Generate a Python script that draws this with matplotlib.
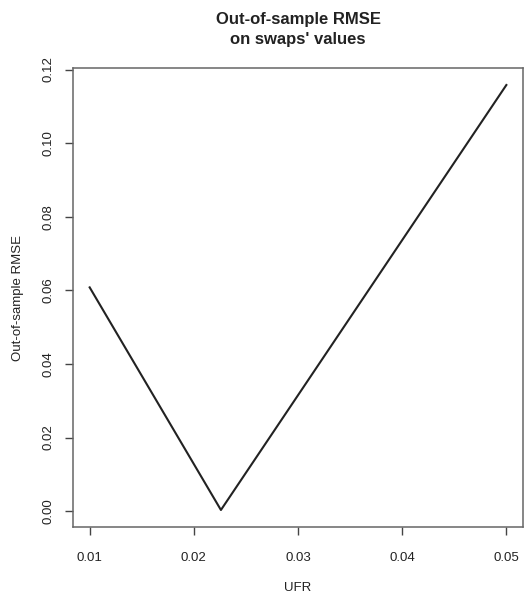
import matplotlib.pyplot as plt

# UFR grid points and out-of-sample RMSE
ufr = [0.01, 0.0226, 0.05]
rmse = [0.0608, 0.0003, 0.1158]

x_ticks = [0.01, 0.02, 0.03, 0.04, 0.05]
y_ticks = [0.00, 0.02, 0.04, 0.06, 0.08, 0.10, 0.12]

plt.rcParams['font.family'] = ['Liberation Sans', 'DejaVu Sans']

fig = plt.figure(figsize=(5.29, 6.04), dpi=100)
ax = fig.add_axes([0.138, 0.1275, 0.8507, 0.7599])

ax.plot(ufr, rmse, color='#222222', lw=1.5)

# R-style 4% range extension
xr = max(ufr) - min(ufr)
yr = max(rmse) - min(rmse)
ax.set_xlim(min(ufr) - 0.04 * xr, max(ufr) + 0.04 * xr)
ax.set_ylim(min(rmse) - 0.04 * yr, max(rmse) + 0.04 * yr)

ax.set_xticks(x_ticks)
ax.set_xticklabels([f"{v:.2f}" for v in x_ticks])
ax.set_yticks(y_ticks)
ax.set_yticklabels([f"{v:.2f}" for v in y_ticks], rotation=90, va='center')

for s in ax.spines.values():
    s.set_color('#666666')
    s.set_linewidth(1.1)
ax.tick_params(axis='both', direction='out', length=6, width=1.0,
               color='#444444', labelsize=9.5, labelcolor='#222222')
ax.tick_params(axis='x', pad=12)
ax.tick_params(axis='y', pad=7)

ax.set_xlabel('UFR', fontsize=9.5, color='#222222', labelpad=13)
ax.set_ylabel('Out-of-sample RMSE', fontsize=9.5, color='#222222', labelpad=14)
ax.set_title("Out-of-sample RMSE\non swaps' values", fontsize=12,
             fontweight='bold', color='#222222', pad=17, linespacing=1.45)

fig.savefig('out.png', dpi=100)
